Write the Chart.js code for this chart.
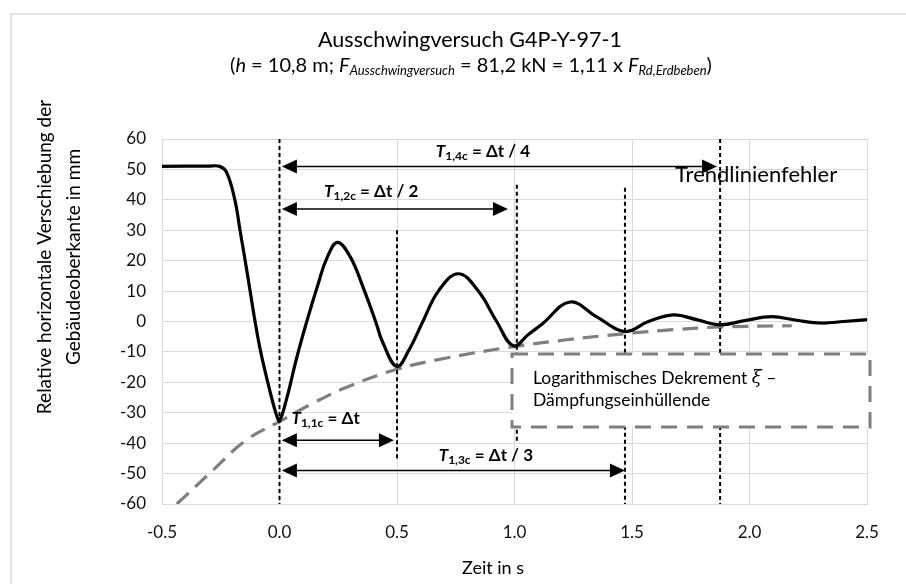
<!DOCTYPE html>
<html>
<head>
<meta charset="utf-8">
<script src="https://cdn.jsdelivr.net/npm/chart.js@4.4.1/dist/chart.umd.min.js"></script>
<style>
	html, body { margin: 0; padding: 0; background: #fff; }
</style>
</head>
<body>
<canvas id="grafico" width="906" height="584"></canvas>
<script>
// Messkurve
const zeit = [-0.5, -0.3, -0.255, -0.225, -0.19, -0.168, -0.146, -0.125, -0.104, -0.08, -0.042, -0.013, 0.0, 0.03, 0.073, 0.116, 0.165, 0.2, 0.246, 0.3, 0.357, 0.409, 0.44, 0.499, 0.55, 0.61, 0.676, 0.761, 0.846, 0.924, 0.995, 1.06, 1.118, 1.236, 1.35, 1.47, 1.57, 1.676, 1.775, 1.874, 1.98, 2.094, 2.2, 2.307, 2.4, 2.5];
const verschiebung = [51, 51.1, 51, 49, 40, 30, 20, 10, 0, -10, -22.5, -30.7, -32.6, -25.5, -12, 0, 12.5, 20.5, 26, 21.4, 11, 0, -7, -14.8, -9.5, 0, 10, 15.7, 10, 0, -8, -4.2, -0.8, 6.4, 1.5, -3.3, 0, 2.2, 0.6, -1.1, 0.3, 1.6, 0.4, -0.5, 0, 0.6];

// Dämpfungseinhüllende
const zeitHuelle = [-0.437, -0.395, -0.282, -0.14, 0, 0.144, 0.286, 0.499, 0.711, 0.967, 1.222, 1.47, 1.676, 1.874, 2.18];
const werteHuelle = [-60, -57, -48.8, -38.9, -32.9, -26.8, -21.6, -15.7, -12, -8.6, -6, -4, -2.7, -1.8, -1.4];

// senkrechte Hilfslinien
const linienX = [0, 0.5, 1.01, 1.47, 1.875];
const linienVon = [60, 30, 45, 44, 60];
const linienBis = [-60, -45, -40, -60, -60];

// Periodenpfeile
const pfeilY = [51, 37, -39, -49];
const pfeilVon = [0.01, 0.01, 0.01, 0.01];
const pfeilBis = [1.862, 0.972, 0.487, 1.47];
const pfeilIndex = ['1,4c', '1,2c', '1,1c', '1,3c'];
const pfeilText = [' = Δt / 4', ' = Δt / 2', ' = Δt', ' = Δt / 3'];
const pfeilLabelX = [0.866, 0.39, 0.196, 0.878];
const pfeilLabelY = [55.8, 42.6, -32, -44.2];

const FUENTE = 'Lato, "Open Sans", sans-serif';
const GRIS = '#d9d9d9';

const dibujarRico = (ctx, partes, x, y, align) => {
	let total = 0;
	partes.forEach((p) => {
		ctx.font = p.font;
		p.w = ctx.measureText(p.t).width;
		total += p.w;
	});
	let cx = align === 'center' ? x - total / 2 : x;
	partes.forEach((p) => {
		ctx.font = p.font;
		ctx.fillText(p.t, cx, y + (p.dy || 0));
		cx += p.w;
	});
};

const datasets = [
	{
		label: 'Messung',
		data: zeit.map((t, i) => ({ x: t, y: verschiebung[i] })),
		borderColor: '#000',
		borderWidth: 3.2,
		pointRadius: 0,
		tension: 0.4,
		order: 1
	},
	{
		label: 'Einhüllende',
		data: zeitHuelle.map((t, i) => ({ x: t, y: werteHuelle[i] })),
		borderColor: '#7f7f7f',
		borderWidth: 3.2,
		borderDash: [16, 9],
		pointRadius: 0,
		tension: 0.4,
		order: 2
	}
];

linienX.forEach((x, i) => {
	datasets.push({
		label: 'Linie ' + i,
		data: [{ x: x, y: linienVon[i] }, { x: x, y: linienBis[i] }],
		borderColor: '#000',
		borderWidth: 2,
		borderDash: [4, 3],
		pointRadius: 0,
		order: 0
	});
});

const extras = {
	id: 'extras',
	beforeDraw: (chart) => {
		const ctx = chart.ctx;
		ctx.save();
		ctx.fillStyle = '#fff';
		ctx.fillRect(0, 0, chart.width, chart.height);
		ctx.strokeStyle = GRIS;
		ctx.lineWidth = 1.5;
		ctx.beginPath();
		ctx.moveTo(11, 600);
		ctx.lineTo(11, 14);
		ctx.lineTo(906, 14);
		ctx.stroke();
		ctx.restore();
	},
	afterDatasetsDraw: (chart) => {
		const ctx = chart.ctx;
		const xs = chart.scales.x;
		const ys = chart.scales.y;
		ctx.save();

		// Pfeile
		ctx.strokeStyle = '#000';
		ctx.fillStyle = '#000';
		ctx.lineWidth = 1.5;
		const kopf = (xt, yt, dir) => {
			ctx.beginPath();
			ctx.moveTo(xt, yt);
			ctx.lineTo(xt - dir * 15, yt - 7);
			ctx.lineTo(xt - dir * 15, yt + 7);
			ctx.closePath();
			ctx.fill();
		};
		pfeilY.forEach((v, i) => {
			const y = ys.getPixelForValue(v);
			const x0 = xs.getPixelForValue(pfeilVon[i]);
			const x1 = xs.getPixelForValue(pfeilBis[i]);
			ctx.beginPath();
			ctx.moveTo(x0 + 10, y);
			ctx.lineTo(x1 - 10, y);
			ctx.stroke();
			kopf(x0, y, -1);
			kopf(x1, y, 1);
		});

		// Pfeilbeschriftungen
		ctx.textBaseline = 'middle';
		pfeilIndex.forEach((idx, i) => {
			dibujarRico(ctx, [
				{ t: 'T', font: 'italic bold 17px ' + FUENTE },
				{ t: idx, font: 'bold 12px ' + FUENTE, dy: 4 },
				{ t: pfeilText[i], font: 'bold 17px ' + FUENTE }
			], xs.getPixelForValue(pfeilLabelX[i]), ys.getPixelForValue(pfeilLabelY[i]), 'center');
		});

		// Textfeld Einhüllende
		ctx.fillStyle = '#fff';
		ctx.fillRect(512, 354, 358, 73);
		ctx.strokeStyle = '#7f7f7f';
		ctx.lineWidth = 3;
		ctx.setLineDash([16, 10]);
		ctx.strokeRect(512, 354, 358, 73);
		ctx.setLineDash([]);
		ctx.fillStyle = '#000';
		dibujarRico(ctx, [
			{ t: 'Logarithmisches Dekrement ', font: '17.5px ' + FUENTE },
			{ t: 'ξ', font: 'italic 18px "DejaVu Serif", serif' },
			{ t: ' –', font: '17.5px ' + FUENTE }
		], 533, 378, 'left');
		ctx.font = '17.5px ' + FUENTE;
		ctx.fillText('Dämpfungseinhüllende', 533, 400);

		ctx.font = '22px ' + FUENTE;
		ctx.fillText('Trendlinienfehler', 675, 175);

		// Titel
		ctx.fillStyle = '#000';
		ctx.textAlign = 'center';
		ctx.font = '21.5px ' + FUENTE;
		ctx.fillText('Ausschwingversuch G4P-Y-97-1', 470, 40);
		ctx.textAlign = 'left';
		const f = '20px ' + FUENTE;
		const fi = 'italic 20px ' + FUENTE;
		const fs = 'italic 13px ' + FUENTE;
		dibujarRico(ctx, [
			{ t: '(', font: f },
			{ t: 'h', font: fi },
			{ t: ' = 10,8 m; ', font: f },
			{ t: 'F', font: fi },
			{ t: 'Ausschwingversuch', font: fs, dy: 5 },
			{ t: ' = 81,2 kN = 1,11 x ', font: f },
			{ t: 'F', font: fi },
			{ t: 'Rd,Erdbeben', font: fs, dy: 5 },
			{ t: ')', font: f }
		], 471, 66, 'center');

		// Achsentitel
		ctx.textAlign = 'center';
		ctx.font = '18px ' + FUENTE;
		ctx.fillText('Zeit in s', 493, 568);
		ctx.font = '19px ' + FUENTE;
		ctx.translate(59, 257);
		ctx.rotate(-Math.PI / 2);
		ctx.fillText('Relative horizontale Verschiebung der', 0, -14);
		ctx.fillText('Gebäudeoberkante in mm', 0, 15);
		ctx.restore();
	}
};

const grafico = new Chart(document.getElementById('grafico'), {
	type: 'line',
	data: { datasets: datasets },
	options: {
		responsive: false,
		animation: false,
		devicePixelRatio: 1,
		layout: { padding: { top: 139, right: 39, left: 0, bottom: 0 } },
		plugins: { legend: { display: false }, tooltip: { enabled: false } },
		scales: {
			x: {
				type: 'linear',
				min: -0.5,
				max: 2.5,
				afterFit: (s) => { s.height = 80; },
				grid: { color: GRIS, drawTicks: false },
				border: { color: GRIS },
				ticks: {
					stepSize: 0.5,
					padding: 18,
					color: '#111',
					font: { family: FUENTE, size: 17 },
					callback: (v) => v.toFixed(1)
				}
			},
			y: {
				min: -60,
				max: 60,
				afterFit: (s) => { s.width = 162; },
				grid: { color: GRIS, drawTicks: false },
				border: { color: GRIS },
				ticks: {
					stepSize: 10,
					padding: 16,
					color: '#111',
					font: { family: FUENTE, size: 17 }
				}
			}
		}
	},
	plugins: [extras]
});
</script>
</body>
</html>
